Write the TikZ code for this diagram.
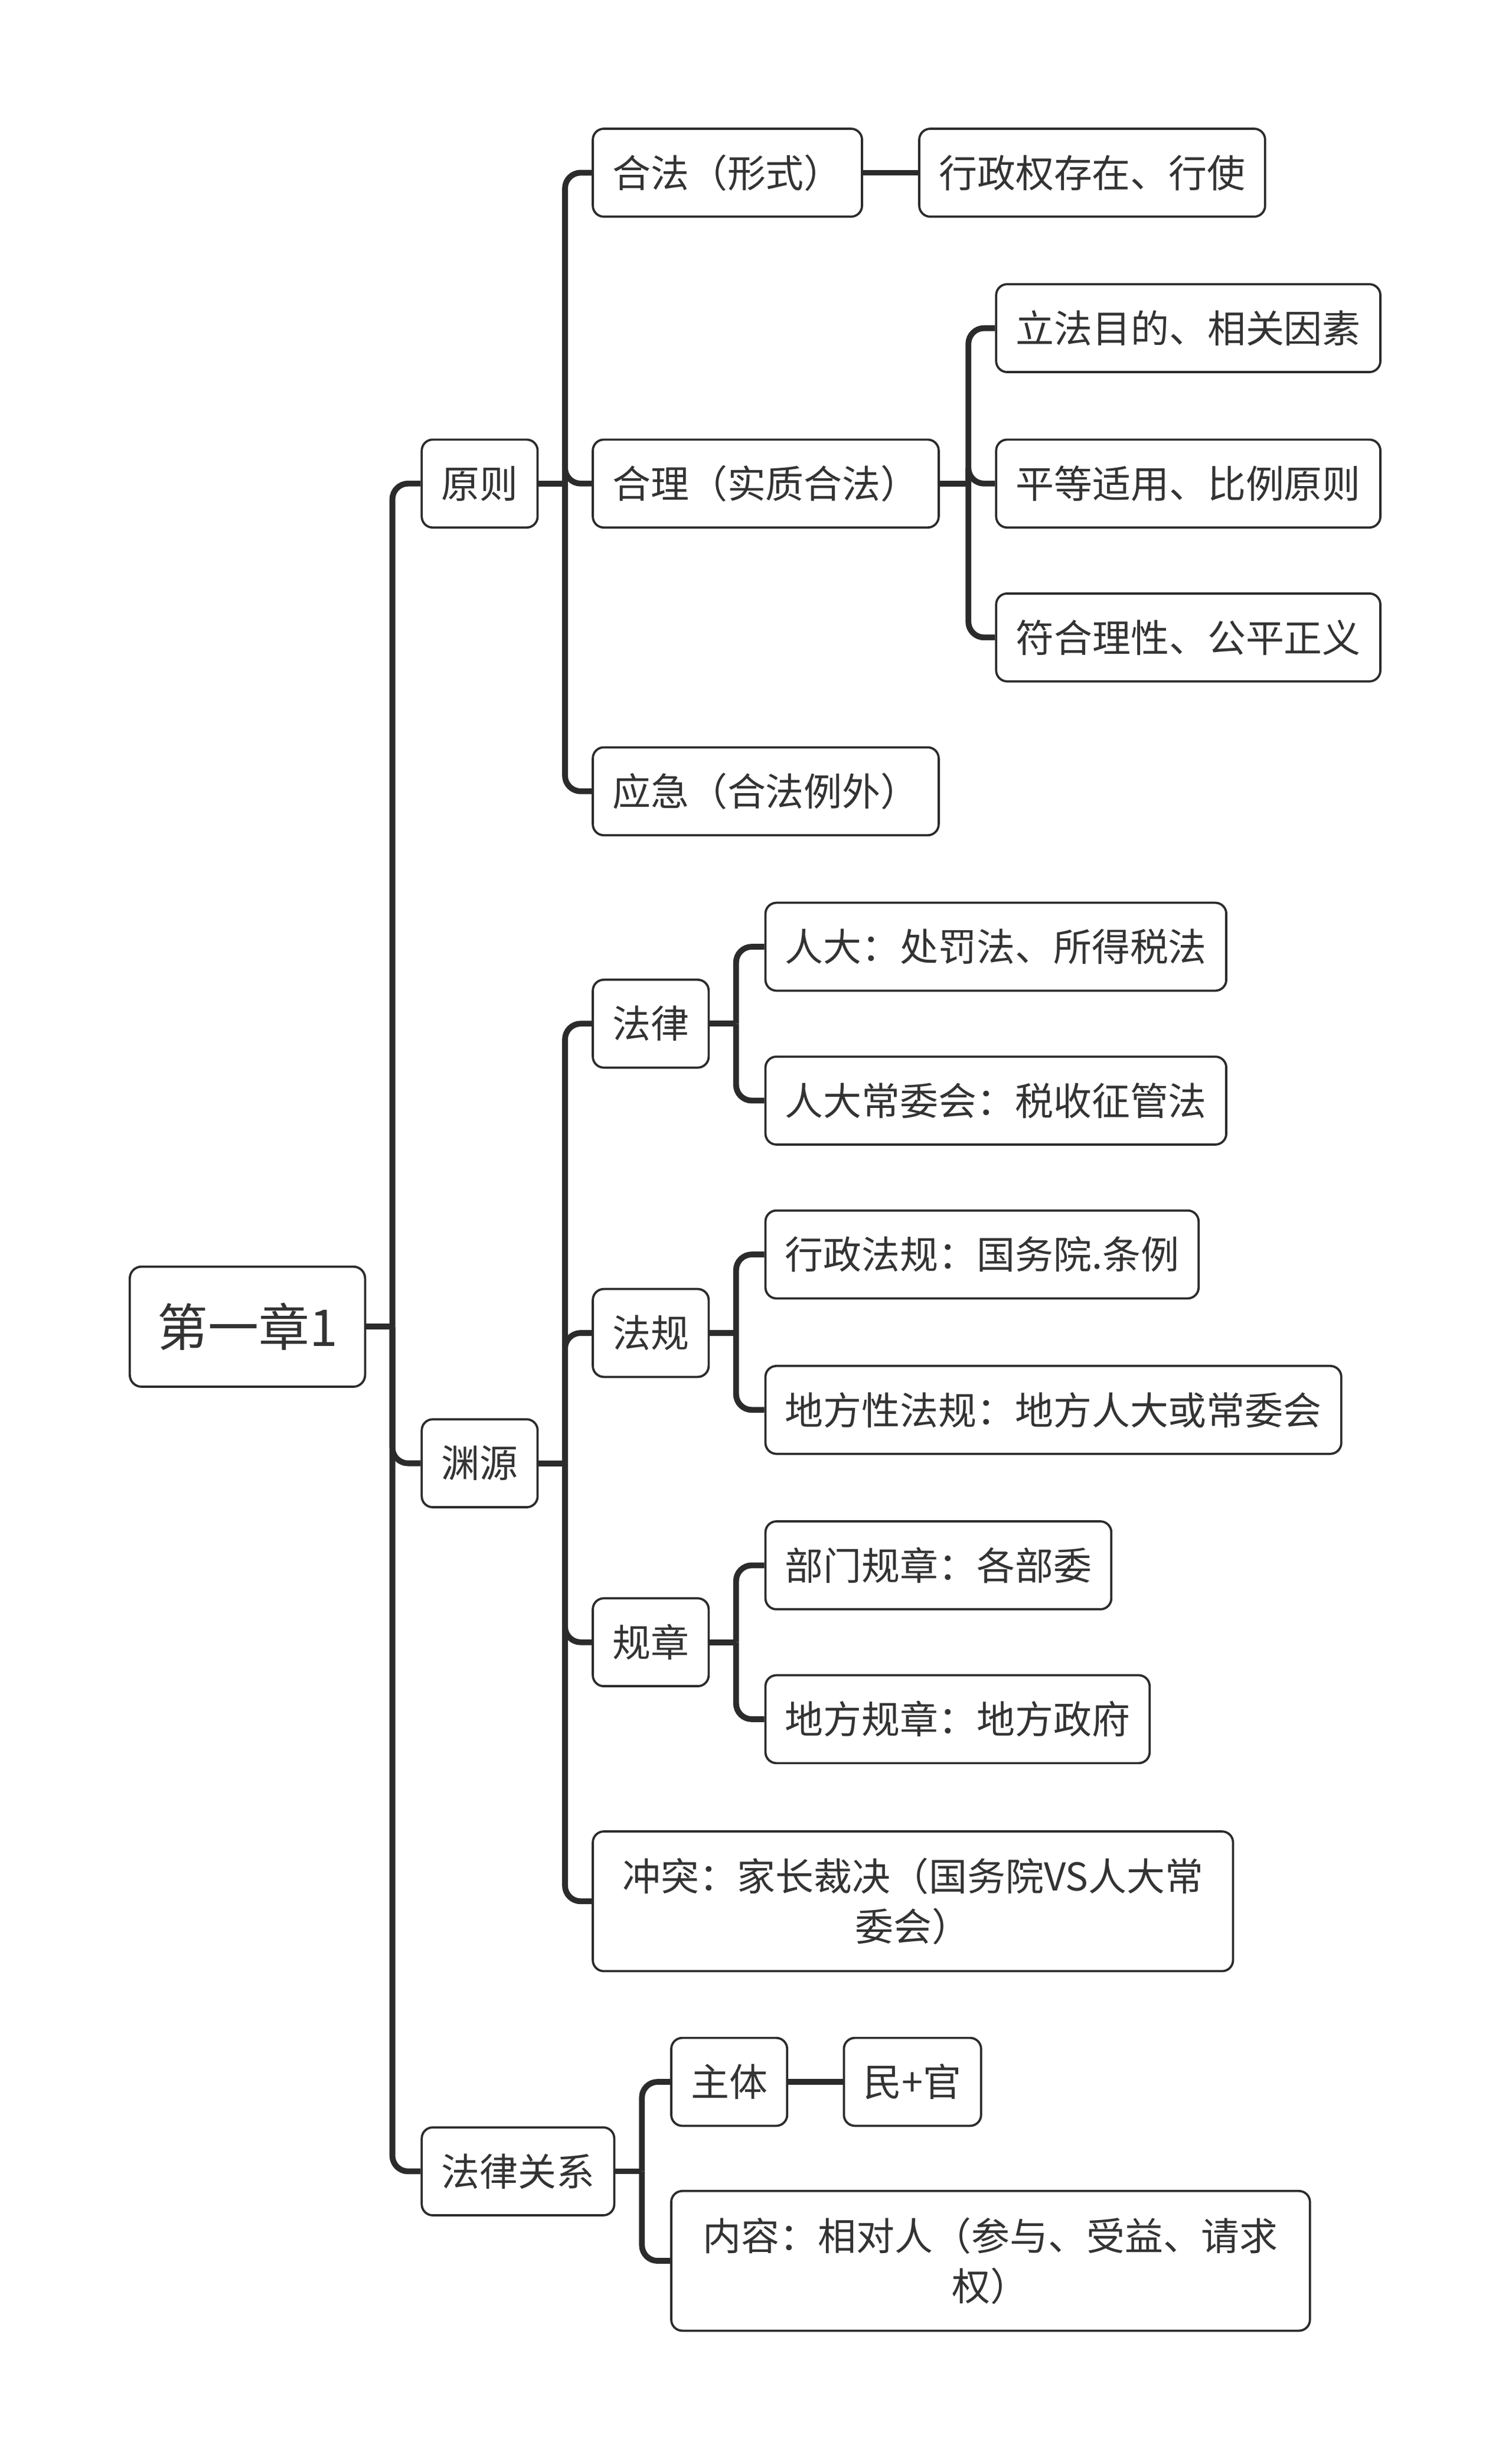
\documentclass[tikz,border=0pt]{standalone}
\usepackage{fontspec}
\setmainfont{Noto Sans CJK SC}
\usepackage{xcolor}
\definecolor{linecol}{HTML}{2B2B2B}
\definecolor{textcol}{HTML}{333333}

\tikzset{
  topic/.style={draw=linecol, line width=0.8pt, rounded corners=0.14cm, fill=white,
    text=textcol, inner xsep=0.25cm, inner ysep=0pt, minimum height=1.12cm, anchor=west,
    font=\fontsize{13.9pt}{18.2pt}\selectfont},
  roottopic/.style={topic, rounded corners=0.15cm, inner xsep=0.35cm, minimum height=1.53cm,
    font=\fontsize{18.4pt}{22pt}\selectfont},
  twoline/.style={topic, text width=#1, align=center, minimum height=1.78cm},
  link/.style={draw=linecol, line width=2.1pt, rounded corners=0.2cm},
}

\begin{document}
\begin{tikzpicture}[x=0.02cm, y=-0.02cm]
  \useasboundingbox (0,0) rectangle (963,1567.5);

  % root and main branches
  \node[roottopic] (root) at (82,845) {第一章1};
  \node[topic] (yuanze) at (268,308) {原则};
  \node[topic] (yuanyuan) at (268,932) {渊源};
  \node[topic] (guanxi) at (268,1383) {法律关系};

  % 原则
  \node[topic] (hefa) at (377,110) {合法（形式）};
  \node[topic] (xingzheng) at (585,110) {行政权存在、行使};
  \node[topic] (heli) at (377,308) {合理（实质合法）};
  \node[topic] (lifa) at (634,209) {立法目的、相关因素};
  \node[topic] (pingdeng) at (634,308) {平等适用、比例原则};
  \node[topic] (fuhe) at (634,406) {符合理性、公平正义};
  \node[topic] (yingji) at (377,504) {应急（合法例外）};

  % 渊源
  \node[topic] (falv) at (377,652) {法律};
  \node[topic] (renda) at (487,603) {人大：处罚法、所得税法};
  \node[topic] (changwei) at (487,701) {人大常委会：税收征管法};
  \node[topic] (fagui) at (377,849) {法规};
  \node[topic] (xzfg) at (487,799) {行政法规：国务院.条例};
  \node[topic] (dffg) at (487,898) {地方性法规：地方人大或常委会};
  \node[topic] (guizhang) at (377,1046) {规章};
  \node[topic] (bmgz) at (487,997) {部门规章：各部委};
  \node[topic] (dfgz) at (487,1095) {地方规章：地方政府};
  \node[twoline=7.66cm] (chongtu) at (377,1211) {冲突：家长裁决（国务院VS人大常\\委会）};

  % 法律关系
  \node[topic] (zhuti) at (427,1326) {主体};
  \node[topic] (minguan) at (537,1326) {民+官};
  \node[twoline=7.64cm] (neirong) at (427,1440) {内容：相对人（参与、受益、请求\\权）};

  % junctions
  \coordinate (jroot) at (250,845);
  \coordinate (jyuanze) at (360,308);
  \coordinate (jheli) at (617,308);
  \coordinate (jyuanyuan) at (360,932);
  \coordinate (jfalv) at (469,652);
  \coordinate (jfagui) at (469,849);
  \coordinate (jguizhang) at (469,1046);
  \coordinate (jguanxi) at (409,1383);

  % connectors
  \draw[link] (root.east) -- (jroot);
  \foreach \c in {yuanze,yuanyuan,guanxi} \draw[link] (jroot) |- (\c.west);
  \draw[link] (yuanze.east) -- (jyuanze);
  \foreach \c in {hefa,heli,yingji} \draw[link] (jyuanze) |- (\c.west);
  \draw[link] (hefa.east) -- (xingzheng.west);
  \draw[link] (heli.east) -- (jheli);
  \foreach \c in {lifa,pingdeng,fuhe} \draw[link] (jheli) |- (\c.west);
  \draw[link] (yuanyuan.east) -- (jyuanyuan);
  \foreach \c in {falv,fagui,guizhang,chongtu} \draw[link] (jyuanyuan) |- (\c.west);
  \draw[link] (falv.east) -- (jfalv);
  \foreach \c in {renda,changwei} \draw[link] (jfalv) |- (\c.west);
  \draw[link] (fagui.east) -- (jfagui);
  \foreach \c in {xzfg,dffg} \draw[link] (jfagui) |- (\c.west);
  \draw[link] (guizhang.east) -- (jguizhang);
  \foreach \c in {bmgz,dfgz} \draw[link] (jguizhang) |- (\c.west);
  \draw[link] (guanxi.east) -- (jguanxi);
  \foreach \c in {zhuti,neirong} \draw[link] (jguanxi) |- (\c.west);
  \draw[link] (zhuti.east) -- (minguan.west);
\end{tikzpicture}
\end{document}
